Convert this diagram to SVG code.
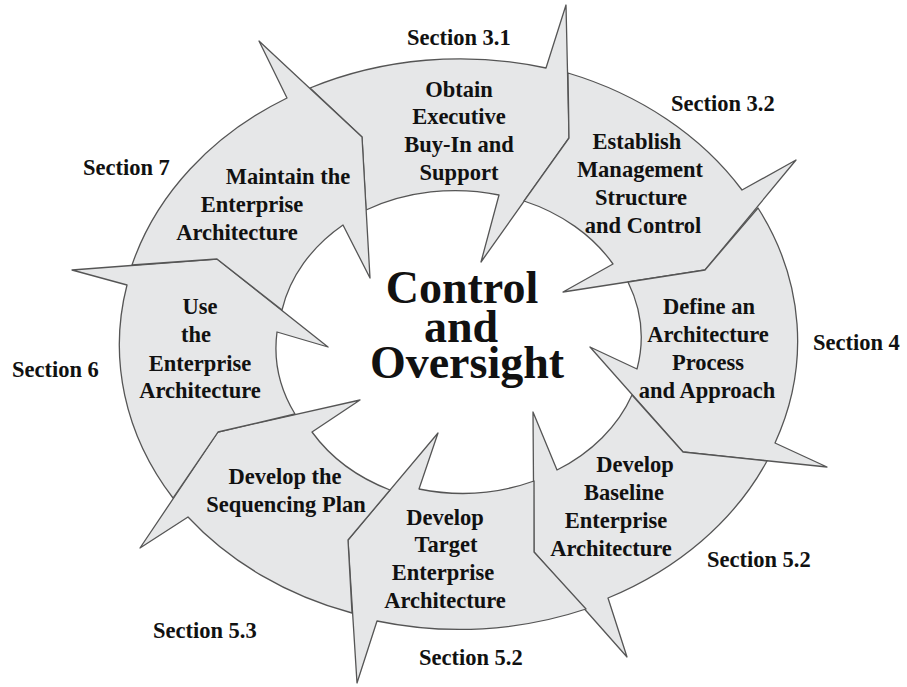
<svg xmlns="http://www.w3.org/2000/svg" width="907" height="687" viewBox="0 0 907 687">
<style>
.seg{fill:#e6e7e8;stroke:#555;stroke-width:1.3;stroke-linejoin:round}
.lbl{font-family:"Liberation Serif","Times New Roman",serif;font-weight:bold;font-size:22.5px;fill:#111;text-anchor:middle}
.sec{font-family:"Liberation Serif","Times New Roman",serif;font-weight:bold;font-size:22.5px;fill:#111}
.big{font-family:"Liberation Serif","Times New Roman",serif;font-weight:bold;font-size:46px;fill:#111;text-anchor:middle}
</style>
<rect width="907" height="687" fill="#fff"/>
<g id="obtain">
<path class="seg" d="M 310 88 A 340 284 0 0 1 546 68 L 566 5 L 569 138 L 481 262 L 499 195 A 180 148 0 0 0 366 210 L 362 137 Z"/>
<text class="lbl" x="459"><tspan x="459" y="97">Obtain</tspan><tspan x="459" y="124">Executive</tspan><tspan x="459" y="152">Buy-In and</tspan><tspan x="459" y="180">Support</tspan></text>
</g>
<g id="establish">
<path class="seg" d="M 568 73 A 340 284 0 0 1 742 190 L 796 160 L 705 270 L 563 292 L 613 264 A 180 148 0 0 0 524 201 L 569 138 Z"/>
<text class="lbl"><tspan x="637" y="149">Establish</tspan><tspan x="640" y="177">Management</tspan><tspan x="641" y="205">Structure</tspan><tspan x="643" y="233">and Control</tspan></text>
</g>
<g id="define">
<path class="seg" d="M 758 208 A 340 284 0 0 1 775 443 L 827 467 L 683 452 L 590 347 L 637 369 A 180 148 0 0 0 628 282 L 705 270 Z"/>
<text class="lbl"><tspan x="709" y="314">Define an</tspan><tspan x="708" y="342">Architecture</tspan><tspan x="708" y="370">Process</tspan><tspan x="707" y="398">and Approach</tspan></text>
</g>
<g id="baseline">
<path class="seg" d="M 767 461 A 340 284 0 0 1 608 598 L 627 657 L 534 552 L 533 412 L 557 470 A 180 148 0 0 0 632 395 L 683 452 Z"/>
<text class="lbl"><tspan x="635" y="472">Develop</tspan><tspan x="624" y="500">Baseline</tspan><tspan x="616" y="528">Enterprise</tspan><tspan x="611" y="556">Architecture</tspan></text>
</g>
<g id="target">
<path class="seg" d="M 586 609 A 340 284 0 0 1 377 621 L 357 683 L 348 540 L 438 433 L 419 489 A 180 148 0 0 0 534 481 L 534 552 Z"/>
<text class="lbl"><tspan x="445" y="525">Develop</tspan><tspan x="446" y="552">Target</tspan><tspan x="443" y="580">Enterprise</tspan><tspan x="445" y="608">Architecture</tspan></text>
</g>
<g id="sequencing">
<path class="seg" d="M 352 613 A 340 284 0 0 1 188 517 L 140 548 L 218 432 L 360 400 L 312 432 A 180 148 0 0 0 390 490 L 348 540 Z"/>
<text class="lbl"><tspan x="285" y="484">Develop the</tspan><tspan x="286" y="512">Sequencing Plan</tspan></text>
</g>
<g id="use">
<path class="seg" d="M 173 498 A 340 284 0 0 1 127 285 L 72 270 L 217 259 L 328 347 L 277 332 A 180 148 0 0 0 295 414 L 218 432 Z"/>
<text class="lbl"><tspan x="200" y="314">Use</tspan><tspan x="196" y="342">the</tspan><tspan x="200" y="371">Enterprise</tspan><tspan x="200" y="398">Architecture</tspan></text>
</g>
<g id="maintain">
<path class="seg" d="M 132 265 A 340 284 0 0 1 287 98 L 259 41 L 362 137 L 370 278 L 343 225 A 180 148 0 0 0 282 310 L 217 259 Z"/>
<text class="lbl"><tspan x="288" y="184">Maintain the</tspan><tspan x="252" y="212">Enterprise</tspan><tspan x="237" y="240">Architecture</tspan></text>
</g>
<g id="center">
<text class="big"><tspan x="462" y="303">Control</tspan><tspan x="461" y="342">and</tspan><tspan x="467" y="378">Oversight</tspan></text>
</g>
<g id="sections">
<text class="sec" x="407" y="45">Section 3.1</text>
<text class="sec" x="671" y="111">Section 3.2</text>
<text class="sec" x="813" y="350">Section 4</text>
<text class="sec" x="707" y="567">Section 5.2</text>
<text class="sec" x="419" y="665">Section 5.2</text>
<text class="sec" x="153" y="638">Section 5.3</text>
<text class="sec" x="12" y="377">Section 6</text>
<text class="sec" x="83" y="175">Section 7</text>
</g>
<g id="connectors"/>
</svg>
